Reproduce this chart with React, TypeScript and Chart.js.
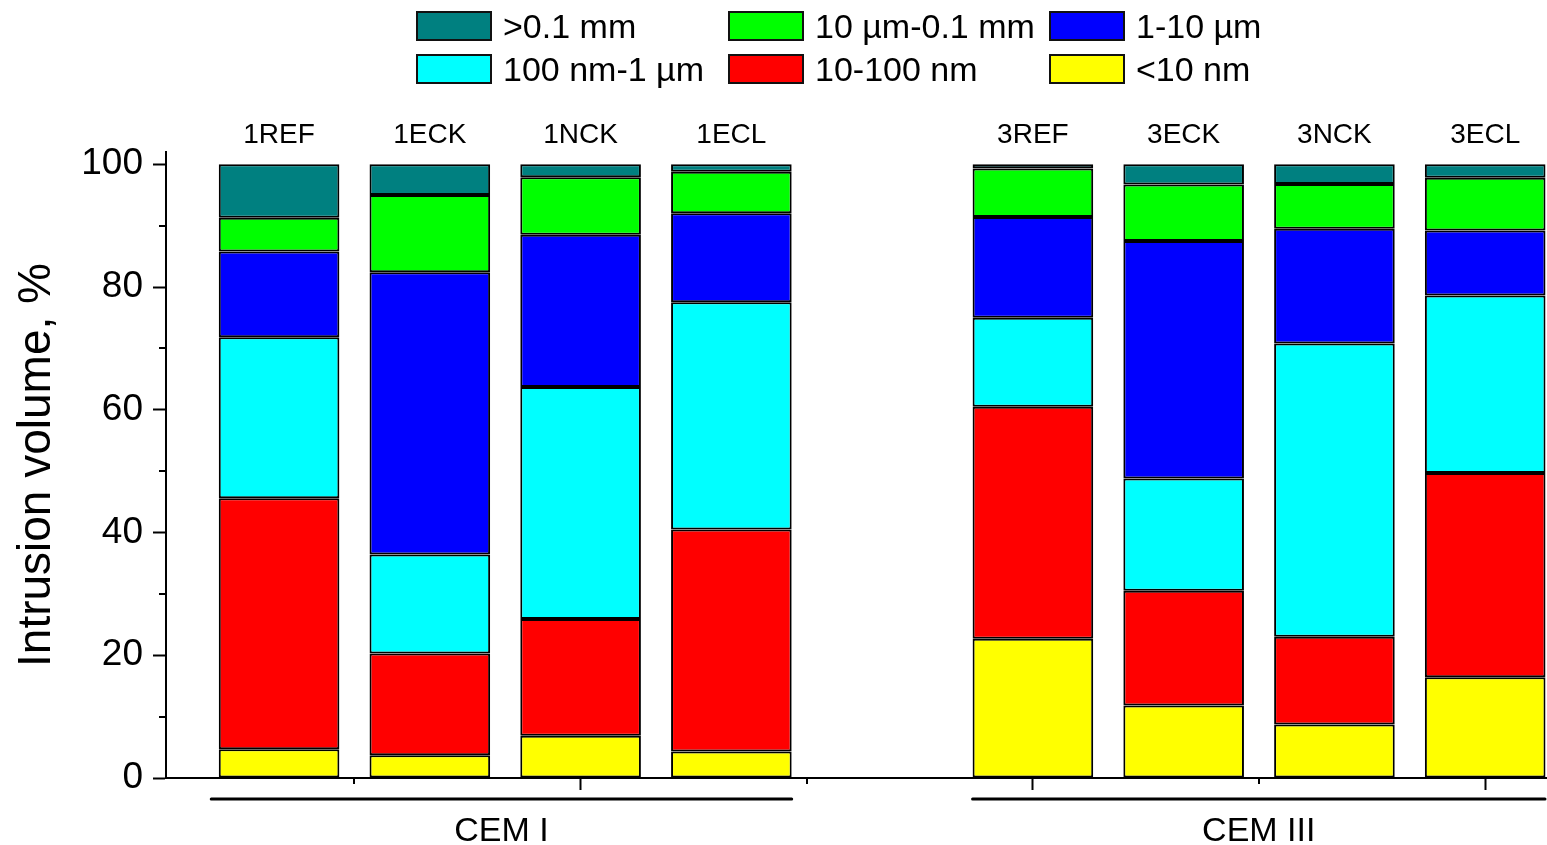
import React, { useEffect, useRef } from 'react';
import { Chart, registerables } from 'chart.js';

Chart.register(...registerables);

const FONT = "'Liberation Sans', Arial, Helvetica, sans-serif";

// Categories (sample names) and their positions on the x axis (slot 5 is an empty gap)
const samples = ['1REF', '1ECK', '1NCK', '1ECL', '3REF', '3ECK', '3NCK', '3ECL'];
const samplePositions = [1, 2, 3, 4, 6, 7, 8, 9];

// Cement groups below the axis
const groupNames = ['CEM I', 'CEM III'];
const groupSpans = [
  [0.55, 4.4],
  [5.6, 9.41],
];

// Tick values
const yMajorTicks = [0, 20, 40, 60, 80, 100];
const yMinorTicks = [10, 30, 50, 70, 90];
const xMajorTicks = [3, 6, 9];
const xMinorTicks = [1.5, 4.5, 7.5];

// Series (bottom to top of each stack), intrusion volume in %
const seriesLabels = ['<10 nm', '10-100 nm', '100 nm-1 µm', '1-10 µm', '10 µm-0.1 mm', '>0.1 mm'];
const seriesColors = ['#FFFF00', '#FF0000', '#00FFFF', '#0000FF', '#00FF00', '#008080'];
const below10nm = [4.7, 3.7, 6.9, 4.3, 22.7, 11.8, 8.7, 16.4];
const nm10to100 = [40.9, 16.6, 19.0, 36.2, 37.8, 18.7, 14.3, 33.3];
const nm100to1um = [26.2, 16.1, 37.8, 37.0, 14.5, 18.3, 47.8, 28.9];
const um1to10 = [14.0, 46.0, 24.8, 14.5, 16.4, 38.7, 18.7, 10.6];
const um10to01mm = [5.5, 12.6, 9.4, 6.8, 7.9, 9.2, 7.3, 8.6];
const above01mm = [8.7, 5.0, 2.1, 1.2, 0.7, 3.3, 3.2, 2.2];
const seriesValues = [below10nm, nm10to100, nm100to1um, um1to10, um10to01mm, above01mm];

// Legend layout: indices into the series, row by row
const legendRows = [
  [5, 4, 3],
  [2, 1, 0],
];
const legendColX = [416, 728, 1049];
const legendRowY = [11, 54];

const X_MIN = 0.25;
const X_MAX = 9.41;

const decorPlugin = {
  id: 'decor',
  afterDraw(chart: any) {
    const ctx = chart.ctx;
    const xs = chart.scales.x;
    const ys = chart.scales.y;
    ctx.save();
    ctx.strokeStyle = '#000';
    ctx.lineWidth = 2;
    // minor y ticks
    yMinorTicks.forEach((v) => {
      const py = Math.round(ys.getPixelForValue(v));
      ctx.beginPath();
      ctx.moveTo(xs.left - 7, py);
      ctx.lineTo(xs.left, py);
      ctx.stroke();
    });
    // minor x ticks
    xMinorTicks.forEach((v) => {
      const px = Math.round(xs.getPixelForValue(v));
      ctx.beginPath();
      ctx.moveTo(px, ys.bottom);
      ctx.lineTo(px, ys.bottom + 6);
      ctx.stroke();
    });
    // group lines and labels
    ctx.lineWidth = 3;
    ctx.lineCap = 'round';
    ctx.fillStyle = '#000';
    ctx.font = `34px ${FONT}`;
    ctx.textAlign = 'center';
    ctx.textBaseline = 'alphabetic';
    groupSpans.forEach((span, i) => {
      const x0 = xs.getPixelForValue(span[0]);
      const x1 = Math.min(xs.getPixelForValue(span[1]), chart.width - 2);
      const ly = ys.bottom + 21;
      ctx.beginPath();
      ctx.moveTo(x0, ly);
      ctx.lineTo(x1, ly);
      ctx.stroke();
      ctx.fillText(groupNames[i], (x0 + x1) / 2, ys.bottom + 63);
    });
    ctx.restore();
  },
};

export default function App() {
  const canvasRef = useRef<HTMLCanvasElement | null>(null);

  useEffect(() => {
    if (!canvasRef.current) return;
    const datasets = seriesLabels.map((label, si) => ({
      label,
      data: samplePositions.map((p, i) => ({ x: p, y: seriesValues[si][i] })),
      backgroundColor: seriesColors[si],
      borderColor: '#000',
      borderWidth: 2,
      borderSkipped: false,
      stack: 'all',
      categoryPercentage: 1,
      barPercentage: 0.8,
    }));

    const chart = new Chart(canvasRef.current, {
      type: 'bar',
      data: { datasets },
      options: {
        responsive: false,
        animation: false,
        events: [],
        layout: { padding: { top: 100, left: 0, right: 0, bottom: 0 } },
        plugins: {
          legend: { display: false },
          tooltip: { enabled: false },
        },
        scales: {
          x: {
            type: 'linear',
            position: 'bottom',
            stacked: true,
            offset: false,
            min: X_MIN,
            max: X_MAX,
            afterBuildTicks: (s: any) => {
              s.ticks = xMajorTicks.map((v) => ({ value: v }));
            },
            afterFit: (s: any) => {
              s.height = 67;
            },
            ticks: { display: false },
            grid: {
              display: true,
              offset: false,
              drawOnChartArea: false,
              drawTicks: true,
              tickLength: 12,
              tickWidth: 2,
              tickColor: '#000',
            },
            border: { display: true, color: '#000', width: 2 },
          },
          xTop: {
            type: 'linear',
            position: 'top',
            offset: false,
            min: X_MIN,
            max: X_MAX,
            afterBuildTicks: (s: any) => {
              s.ticks = samplePositions.map((v) => ({ value: v }));
            },
            afterFit: (s: any) => {
              s.height = 52;
            },
            ticks: {
              callback: (v: any) => {
                const i = samplePositions.indexOf(Number(v));
                return i >= 0 ? samples[i] : '';
              },
              font: { size: 28, family: FONT },
              color: '#000',
              padding: 0,
              autoSkip: false,
              maxRotation: 0,
              minRotation: 0,
            },
            grid: { display: false, drawTicks: false, offset: false },
            border: { display: false },
          },
          y: {
            type: 'linear',
            position: 'left',
            stacked: true,
            min: 0,
            max: 102,
            afterBuildTicks: (s: any) => {
              s.ticks = [...yMajorTicks, ...yMinorTicks]
                .sort((a, b) => a - b)
                .map((v) => ({ value: v }));
            },
            afterFit: (s: any) => {
              s.width = 166;
            },
            ticks: {
              callback: (v: any) => (yMajorTicks.includes(Number(v)) ? String(v) : ''),
              font: { size: 37, family: FONT },
              color: '#000',
              padding: 10,
              autoSkip: false,
            },
            grid: {
              display: true,
              drawOnChartArea: false,
              drawTicks: true,
              tickLength: 13,
              tickWidth: 2,
              tickColor: (c: any) =>
                c.tick && yMajorTicks.includes(c.tick.value) ? '#000' : 'rgba(0,0,0,0)',
            },
            border: { display: true, color: '#000', width: 2 },
            title: {
              display: true,
              text: 'Intrusion volume, %',
              color: '#000',
              font: { size: 46, family: FONT },
              padding: { top: 10, bottom: 0 },
            },
          },
        },
      } as any,
      plugins: [decorPlugin],
    });
    return () => chart.destroy();
  }, []);

  return (
    <div
      style={{
        position: 'fixed',
        left: 0,
        top: 0,
        width: 1547,
        height: 845,
        background: '#fff',
        overflow: 'hidden',
      }}
    >
      <canvas
        ref={canvasRef}
        width={1547}
        height={845}
        style={{ position: 'absolute', left: 0, top: 0, width: 1547, height: 845 }}
      />
      {legendRows.map((row, r) =>
        row.map((si, c) => (
          <div
            key={`${r}-${c}`}
            style={{
              position: 'absolute',
              left: legendColX[c],
              top: legendRowY[r],
              height: 30,
              display: 'flex',
              alignItems: 'center',
              fontFamily: FONT,
              fontSize: 34,
              lineHeight: '30px',
              color: '#000',
              whiteSpace: 'nowrap',
            }}
          >
            <span
              style={{
                display: 'inline-block',
                width: 76,
                height: 30,
                boxSizing: 'border-box',
                border: '2px solid #111',
                background: seriesColors[si],
                marginRight: 11,
                flex: 'none',
              }}
            />
            <span>{seriesLabels[si]}</span>
          </div>
        ))
      )}
    </div>
  );
}
